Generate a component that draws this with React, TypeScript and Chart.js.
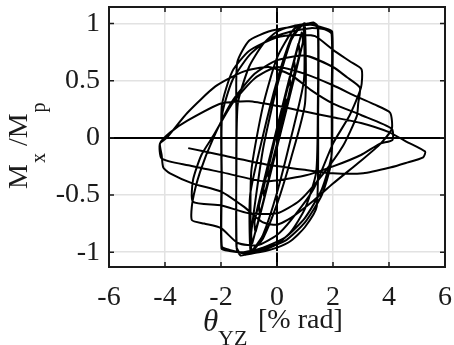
import React, { useEffect, useRef } from "react";
import { Chart, registerables } from "chart.js";

Chart.register(...registerables);

// axis ranges and tick labels
const xTicks = [-6, -4, -2, 0, 2, 4, 6];
const yTicks = [-1, -0.5, 0, 0.5, 1];
const xMin = -6;
const xMax = 6;
const yMin = -1.13;
const yMax = 1.145;

// hysteresis path, cycle by cycle: [theta_YZ (% rad), Mx/Mp]
const elasticCycles = [
  [0, 0], [0.3, 0.33], [0.33, 0.28], [-0.3, -0.33], [-0.33, -0.28], [0.3, 0.34], [0.33, 0.29], [-0.3, -0.34], [-0.33, -0.29],
  [0.45, 0.5], [0.48, 0.43], [-0.45, -0.5], [-0.48, -0.43], [0.45, 0.51], [0.48, 0.44], [-0.45, -0.51], [-0.48, -0.44],
  [0.6, 0.66], [0.64, 0.58], [-0.6, -0.66], [-0.64, -0.58], [0.6, 0.67], [0.64, 0.59], [-0.6, -0.67], [-0.64, -0.59],
  [0.76, 0.81], [0.8, 0.72], [-0.76, -0.81], [-0.8, -0.72], [0.76, 0.82], [0.8, 0.73], [-0.76, -0.82], [-0.8, -0.73],
  [0.88, 0.92], [0.92, 0.83], [-0.88, -0.92], [-0.92, -0.83],
];
const cycle1a = [
  [-0.5, -0.1], [0, 0.45], [0.5, 0.85], [0.8, 0.96], [0.95, 0.99], [0.96, 0.5], [0.5, 0.0], [0, -0.48],
  [-0.5, -0.85], [-0.8, -0.96], [-0.95, -0.99], [-0.96, -0.5],
];
const cycle1b = [
  [-0.5, 0.02], [0, 0.5], [0.5, 0.87], [0.8, 0.97], [0.99, 1.0], [1.0, 0.3], [0.5, -0.18], [0, -0.58],
  [-0.5, -0.88], [-0.8, -0.97], [-0.92, -1.0], [-0.92, -0.3],
];
const cycle15a = [
  [-0.5, 0.28], [0, 0.7], [0.6, 0.95], [1.1, 1.0], [1.35, 0.99], [1.46, 0.95], [1.46, 0.3], [1.4, -0.3],
  [1.0, -0.62], [0.5, -0.82], [0, -0.93], [-0.6, -0.99], [-1.1, -1.01], [-1.35, -1.0], [-1.45, -0.95], [-1.45, -0.3], [-1.4, 0.3],
];
const cycle15b = [
  [-1.0, 0.62], [-0.5, 0.82], [0, 0.93], [0.6, 0.98], [1.1, 1.0], [1.3, 1.01], [1.47, 0.97], [1.47, 0.2], [1.42, -0.6],
  [1.0, -0.78], [0.5, -0.9], [0, -0.96], [-0.6, -1.0], [-1.1, -1.02], [-1.3, -1.03], [-1.44, -0.97], [-1.45, 0.2], [-1.42, 0.66],
];
const cycle2a = [
  [-1.0, 0.85], [-0.3, 0.93], [0.5, 0.97], [1.2, 0.99], [1.7, 0.96], [1.97, 0.93], [1.97, 0.4], [1.95, -0.15],
  [1.6, -0.45], [1.0, -0.7], [0.3, -0.87], [-0.5, -0.96], [-1.2, -1.0], [-1.7, -0.98], [-1.97, -0.95], [-1.97, -0.4], [-1.96, 0.2],
];
const cycle2b = [
  [-1.6, 0.5], [-1.0, 0.72], [-0.3, 0.86], [0.5, 0.93], [1.2, 0.96], [1.7, 0.95], [1.95, 0.91], [1.95, 0.35], [1.93, -0.22],
  [1.6, -0.5], [1.0, -0.74], [0.3, -0.9], [-0.5, -0.97], [-1.2, -1.0], [-1.7, -0.99], [-1.98, -0.97], [-1.98, -0.35], [-1.97, 0.28],
];
const cycle3a = [
  [-1.6, 0.58], [-1.0, 0.76], [0, 0.88], [0.8, 0.9], [1.36, 0.89], [2.0, 0.77], [2.6, 0.67], [3.02, 0.6], [3.0, 0.44],
  [2.6, 0.2], [2.0, -0.05], [1.3, -0.45], [0.5, -0.72], [0, -0.85], [-0.7, -0.94], [-1.4, -0.92], [-2.0, -0.79],
  [-2.6, -0.75], [-3.04, -0.72], [-3.02, -0.56],
];
const cycle3b = [
  [-2.75, -0.3], [-2.27, 0.0], [-1.6, 0.32], [-0.8, 0.56], [0, 0.68], [1.0, 0.72], [2.0, 0.62], [2.5, 0.53], [2.96, 0.44],
  [2.9, 0.3], [2.85, 0.19], [2.36, -0.07], [1.6, -0.33], [0.8, -0.55], [0, -0.66], [-1.0, -0.66], [-2.0, -0.59],
  [-3.0, -0.56], [-3.0, -0.37],
];
const cycle4a = [
  [-2.7, -0.15], [-2.27, 0.02], [-1.6, 0.3], [-0.8, 0.52], [0, 0.62], [1.0, 0.56], [2.0, 0.46], [2.85, 0.36], [3.5, 0.29],
  [4.04, 0.22], [4.1, 0.08], [3.7, -0.05], [3.0, -0.2], [2.0, -0.4], [1.3, -0.55], [0.5, -0.7], [0, -0.76], [-0.5, -0.74],
  [-1.2, -0.6], [-2.0, -0.47], [-3.0, -0.4], [-3.82, -0.31], [-4.06, -0.26], [-4.12, -0.15], [-4.18, -0.05],
];
const cycle4b = [
  [-3.94, 0.0], [-3.2, 0.22], [-2.2, 0.45], [-1.2, 0.58], [-0.3, 0.62], [0.5, 0.55], [1.2, 0.42], [2.0, 0.3], [3.0, 0.2],
  [4.1, 0.08], [4.12, -0.02], [3.68, -0.05], [3.0, -0.15], [2.0, -0.25], [1.0, -0.33], [-0.43, -0.38], [-2.0, -0.3],
  [-3.17, -0.24], [-4.12, -0.18], [-4.18, -0.05],
];
const finalExcursion = [
  [-3.8, 0.05], [-3.2, 0.15], [-2.0, 0.3], [-1.0, 0.32], [0, 0.28], [1.0, 0.23], [2.0, 0.18], [3.0, 0.13], [4.0, 0.05],
  [4.6, -0.03], [5.29, -0.12], [5.22, -0.17], [4.6, -0.22], [4.04, -0.26], [3.08, -0.31], [2.0, -0.31], [1.0, -0.28],
  [-0.43, -0.23], [-2.0, -0.15], [-3.17, -0.09],
];

const allCycles = [
  elasticCycles, cycle1a, cycle1b, cycle15a, cycle15b, cycle2a, cycle2b,
  cycle3a, cycle3b, cycle4a, cycle4b, finalExcursion,
];

const SERIF = '"Liberation Serif", "DejaVu Serif", serif';

const framePlugin = {
  id: "frame",
  afterDraw(chart: any) {
    const { ctx, chartArea: a, scales } = chart;
    ctx.save();
    ctx.strokeStyle = "#1a1a1a";
    ctx.lineWidth = 1.5;
    const tl = 5;
    for (const v of xTicks) {
      const px = scales.x.getPixelForValue(v);
      ctx.beginPath();
      ctx.moveTo(px, a.bottom);
      ctx.lineTo(px, a.bottom - tl);
      ctx.moveTo(px, a.top);
      ctx.lineTo(px, a.top + tl);
      ctx.stroke();
    }
    for (const v of yTicks) {
      const py = scales.y.getPixelForValue(v);
      ctx.beginPath();
      ctx.moveTo(a.left, py);
      ctx.lineTo(a.left + tl, py);
      ctx.moveTo(a.right, py);
      ctx.lineTo(a.right - tl, py);
      ctx.stroke();
    }
    ctx.lineWidth = 2;
    ctx.strokeRect(a.left, a.top, a.right - a.left, a.bottom - a.top);
    ctx.restore();
  },
};

const titlePlugin = {
  id: "titles",
  afterDraw(chart: any) {
    const { ctx } = chart;
    ctx.save();
    ctx.fillStyle = "#1a1a1a";
    ctx.textBaseline = "alphabetic";
    ctx.textAlign = "left";
    // x title: θ_YZ [% rad]
    ctx.font = `italic 31px ${SERIF}`;
    ctx.fillText("θ", 203, 331);
    ctx.font = `22px ${SERIF}`;
    ctx.fillText("YZ", 218, 345);
    ctx.font = `28px ${SERIF}`;
    ctx.fillText("[% rad]", 258, 328);
    // y title: M_x /M_p rotated
    ctx.translate(27, 189);
    ctx.rotate(-Math.PI / 2);
    let x = 0;
    ctx.font = `28px ${SERIF}`;
    ctx.fillText("M", x, 0);
    x += ctx.measureText("M").width;
    ctx.font = `20px ${SERIF}`;
    ctx.fillText("x", x + 1, 18);
    x += ctx.measureText("x").width + 1;
    ctx.font = `28px ${SERIF}`;
    ctx.fillText(" /M", x, 0);
    x += ctx.measureText(" /M").width;
    ctx.font = `20px ${SERIF}`;
    ctx.fillText("p", x + 1, 18);
    ctx.restore();
  },
};

export default function App() {
  const ref = useRef<HTMLCanvasElement>(null);
  useEffect(() => {
    const pts = allCycles.flat().map(([x, y]) => ({ x, y }));
    const gridColor = (c: any) => (c.tick && c.tick.value === 0 ? "#000" : "#e2e2e2");
    const gridWidth = (c: any) => (c.tick && c.tick.value === 0 ? 2 : 1.5);
    const chart = new Chart(ref.current as HTMLCanvasElement, {
      type: "scatter",
      data: {
        datasets: [
          {
            data: pts,
            showLine: true,
            borderColor: "#000",
            borderWidth: 2,
            pointRadius: 0,
            tension: 0.2,
            fill: false,
          } as any,
        ],
      },
      options: {
        responsive: false,
        animation: false,
        devicePixelRatio: 1,
        layout: { padding: { left: 0, top: 7, right: 9, bottom: 0 } },
        plugins: { legend: { display: false }, tooltip: { enabled: false } },
        scales: {
          x: {
            type: "linear",
            min: xMin,
            max: xMax,
            afterBuildTicks: (axis: any) => {
              axis.ticks = xTicks.map((v) => ({ value: v }));
            },
            afterFit: (s: any) => {
              s.height = 78;
              s.paddingLeft = 0;
              s.paddingRight = 0;
            },
            grid: { drawTicks: false, color: gridColor, lineWidth: gridWidth },
            border: { display: false },
            ticks: {
              padding: 14,
              color: "#1a1a1a",
              font: { family: SERIF, size: 28 },
              maxRotation: 0,
              callback: (v: any) => String(v),
            },
          },
          y: {
            type: "linear",
            min: yMin,
            max: yMax,
            afterBuildTicks: (axis: any) => {
              axis.ticks = yTicks.map((v) => ({ value: v }));
            },
            afterFit: (s: any) => {
              s.width = 109;
              s.paddingTop = 0;
              s.paddingBottom = 0;
            },
            grid: { drawTicks: false, color: gridColor, lineWidth: gridWidth },
            border: { display: false },
            ticks: {
              padding: 9,
              color: "#1a1a1a",
              font: { family: SERIF, size: 28 },
              callback: (v: any) => String(v),
            },
          },
        },
      } as any,
      plugins: [framePlugin, titlePlugin],
    });
    return () => chart.destroy();
  }, []);
  return (
    <div style={{ position: "fixed", left: 0, top: 0, width: 454, height: 345, background: "#fff" }}>
      <canvas ref={ref} width={454} height={345} style={{ display: "block" }} />
    </div>
  );
}
